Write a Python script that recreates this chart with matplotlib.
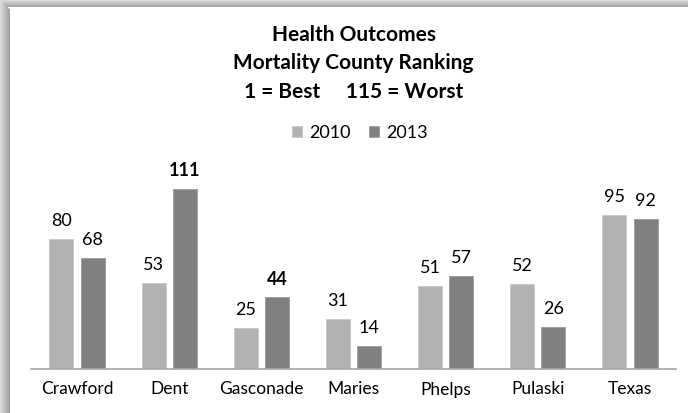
import matplotlib.pyplot as plt
import numpy as np
from matplotlib.patches import Rectangle

counties = ["Crawford", "Dent", "Gasconade", "Maries", "Phelps", "Pulaski", "Texas"]
rank_2010 = [80, 53, 25, 31, 51, 52, 95]
rank_2013 = [68, 111, 44, 14, 57, 26, 92]
# labels drawn in bold in the original
bold_2013 = [False, True, True, False, False, False, False]

c2010 = "#b2b2b2"
c2013 = "#808080"

plt.rcParams["font.family"] = ["Lato", "DejaVu Sans"]

fig = plt.figure(figsize=(6.88, 4.13), dpi=100)
W, H = 688, 413

# shadow frame on left and top edges
steps = 10
for i in range(steps):
    g = 0.86 - 0.24 * i / (steps - 1)
    fig.patches.append(Rectangle((i / W, 0), 1 / W, 1 - i / H, transform=fig.transFigure,
                                 color=(g, g, g), lw=0, zorder=0))
for i in range(7):
    g = 0.86 - 0.22 * i / 6
    fig.patches.append(Rectangle((i / W, 1 - (i + 1) / H), 1 - i / W, 1 / H,
                                 transform=fig.transFigure, color=(g, g, g), lw=0, zorder=0))

ax = fig.add_axes([31 / W, 1 - 369 / H, 645 / W, 209 / H])
ax.set_facecolor("none")

x = np.arange(len(counties))
bw = 0.26
off = 0.17
b1 = ax.bar(x - off, rank_2010, width=bw, color=c2010, edgecolor="#c8c8c8", linewidth=0.6, label="2010")
b2 = ax.bar(x + off, rank_2013, width=bw, color=c2013, edgecolor="#999999", linewidth=0.6, label="2013")

for xi, v in zip(x, rank_2010):
    ax.annotate(str(v), (xi - off, v), xytext=(0, 13), textcoords="offset points",
                ha="center", va="center", fontsize=13)
for xi, v, b in zip(x, rank_2013, bold_2013):
    ax.annotate(str(v), (xi + off, v), xytext=(0, 13), textcoords="offset points",
                ha="center", va="center", fontsize=13,
                fontweight="bold" if b else "normal")

ax.set_xlim(-0.5, len(counties) - 0.5)
ax.set_ylim(0, 128.6)
ax.set_xticks(x)
ax.set_xticklabels(counties, fontsize=12.5)
ax.tick_params(axis="x", length=0, pad=9)
ax.set_yticks([])
for s in ["top", "right", "left"]:
    ax.spines[s].set_visible(False)
ax.spines["bottom"].set_color("#a6a6a6")
ax.spines["bottom"].set_linewidth(1.2)

cx = 353.5 / W
fig.text(cx, 1 - 35 / H, "Health Outcomes", ha="center", va="center", fontsize=15, fontweight="bold")
fig.text(cx, 1 - 63 / H, "Mortality County Ranking", ha="center", va="center", fontsize=15, fontweight="bold")
fig.text(cx, 1 - 92 / H, "1 = Best     115 = Worst", ha="center", va="center", fontsize=15, fontweight="bold")

fig.legend(handles=[b1, b2], loc="center", bbox_to_anchor=(360 / W, 1 - 133 / H), ncol=2,
           frameon=False, fontsize=13, handlelength=0.55, handleheight=0.55,
           handletextpad=0.4, columnspacing=1.0)

fig.savefig("out.png", dpi=100)
